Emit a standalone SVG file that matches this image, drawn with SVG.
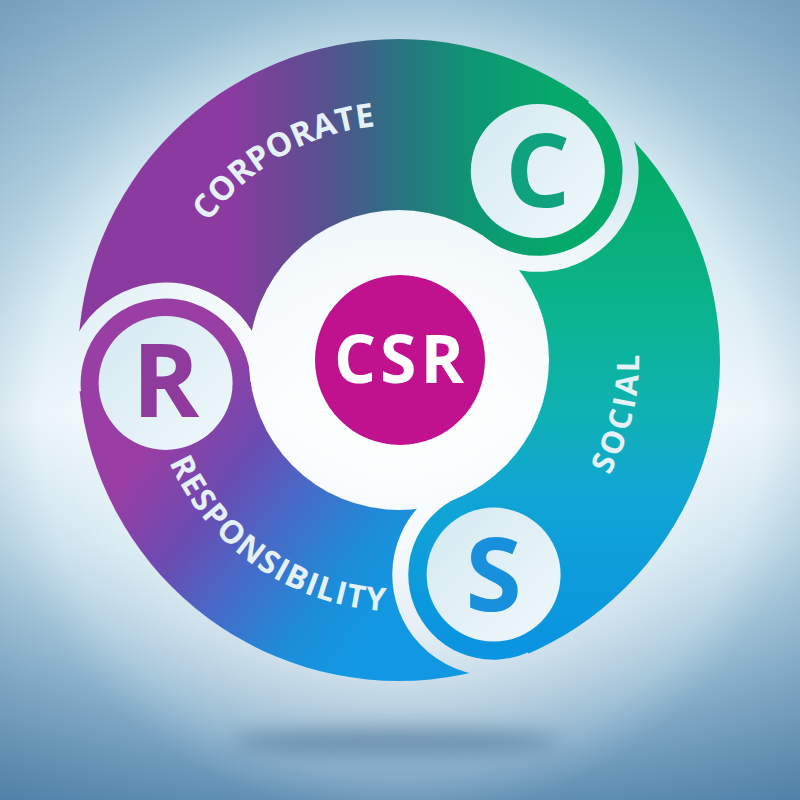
<svg xmlns="http://www.w3.org/2000/svg" width="800" height="800" viewBox="0 0 800 800">
<defs>
<style>
.lbl{font-family:"Open Sans","Liberation Sans",sans-serif;font-weight:700;fill:#e4f2f8;}
.big{font-family:"Open Sans","Liberation Sans",sans-serif;font-weight:700;text-anchor:middle;}
.disc{fill:url(#lite);}
</style>
<linearGradient id="bgv" x1="0" y1="0" x2="0" y2="800" gradientUnits="userSpaceOnUse">
<stop offset="0" stop-color="#a6cbde"/>
<stop offset="0.3" stop-color="#c6e1ed"/>
<stop offset="0.52" stop-color="#e6f3f8"/>
<stop offset="0.68" stop-color="#c4deeb"/>
<stop offset="0.84" stop-color="#96bcd3"/>
<stop offset="1" stop-color="#6594b8"/>
</linearGradient>
<radialGradient id="glow" cx="400" cy="400" r="420" gradientUnits="userSpaceOnUse">
<stop offset="0" stop-color="#fff" stop-opacity="1"/>
<stop offset="0.55" stop-color="#fff" stop-opacity="0.7"/>
<stop offset="1" stop-color="#fff" stop-opacity="0"/>
</radialGradient>
<radialGradient id="vig" cx="400" cy="420" r="600" gradientUnits="userSpaceOnUse">
<stop offset="0.6" stop-color="#2f5f88" stop-opacity="0"/>
<stop offset="1" stop-color="#2f5f88" stop-opacity="0.45"/>
</radialGradient>
<linearGradient id="lite" x1="0" y1="0" x2="1" y2="1">
<stop offset="0" stop-color="#d4e9f1"/>
<stop offset="1" stop-color="#f0f8fb"/>
</linearGradient>
<linearGradient id="gCorp" x1="230" y1="0" x2="560" y2="0" gradientUnits="userSpaceOnUse">
<stop offset="0" stop-color="#8b3aa0"/>
<stop offset="0.3" stop-color="#55528f"/>
<stop offset="0.5" stop-color="#2b7183"/>
<stop offset="0.72" stop-color="#0f9474"/>
<stop offset="1" stop-color="#05aa6a"/>
</linearGradient>
<linearGradient id="gSoc" x1="0" y1="170" x2="0" y2="640" gradientUnits="userSpaceOnUse">
<stop offset="0" stop-color="#05ab68"/>
<stop offset="0.3" stop-color="#0bb48e"/>
<stop offset="0.5" stop-color="#0fb2b0"/>
<stop offset="0.68" stop-color="#10a6d4"/>
<stop offset="1" stop-color="#0b94e0"/>
</linearGradient>
<linearGradient id="gResp" x1="150" y1="450" x2="380" y2="620" gradientUnits="userSpaceOnUse">
<stop offset="0" stop-color="#983ea4"/>
<stop offset="0.29" stop-color="#6a4cb2"/>
<stop offset="0.5" stop-color="#4a68c6"/>
<stop offset="0.79" stop-color="#1e8cd8"/>
<stop offset="1" stop-color="#1298e2"/>
</linearGradient>
<filter id="blur" x="-50%" y="-200%" width="200%" height="500%">
<feGaussianBlur stdDeviation="10"/>
</filter>
<mask id="m" maskUnits="userSpaceOnUse" x="0" y="0" width="800" height="800">
<circle cx="399" cy="360" r="321" fill="#fff"/>
<circle cx="399" cy="360" r="150" fill="#000"/>
<g fill="none" stroke="#000" stroke-width="16">
<path d="M592.9,96.1 A93,93 0 1 1 476.4,240.9"/>
<path d="M73.0,392.0 A93,93 0 1 1 258.6,381.9"/>
<path d="M531.1,659.7 A93,93 0 1 1 463.6,486.6"/>
</g>
</mask>
<path id="pCorp" d="M178.2,279.6 A235,235 0 0 1 439.8,128.6"/>
<path id="pSoc" d="M542.1,552.7 A240,240 0 0 0 613.6,252.5"/>
<path id="pResp" d="M151.8,406.0 A251.4,251.4 0 0 0 445.0,607.2"/>
</defs>

<g id="background">
<rect width="800" height="800" fill="url(#bgv)"/>
<rect width="800" height="800" fill="url(#glow)"/>
<rect width="800" height="800" fill="url(#vig)"/>
<ellipse cx="395" cy="742" rx="165" ry="14" fill="#456f8f" opacity="0.55" filter="url(#blur)"/>
</g>

<g id="disc" mask="url(#m)">
<path id="band-corporate" fill="url(#gCorp)" d="M399,360 L258.2,373.8 A93,93 0 0 0 72.6,383.9 L-76.7,398.5 L-198.1,418.6 L102.2,-161.5 L754.2,-123.5 L688.0,-19.8 L599.2,101.1 A93,93 0 0 1 482.8,246.0 Z"/>
<path id="band-social" fill="url(#gSoc)" d="M399,360 L482.8,246.0 A93,93 0 0 0 599.2,101.1 L688.0,-19.8 L754.2,-123.5 L995.5,425.3 L641.1,909 L584.1,799.9 L523.6,662.6 A93,93 0 0 1 456.1,489.5 Z"/>
<path id="band-responsibility" fill="url(#gResp)" d="M399,360 L456.1,489.5 A93,93 0 0 0 523.6,662.6 L584.1,799.9 L641.1,909 L96.3,878 L-198.1,418.6 L-76.7,398.5 L72.6,383.9 A93,93 0 0 1 258.2,373.8 Z"/>
</g>

<g id="node-csr">
<circle cx="400" cy="360" r="85" fill="#c0118e"/>
<text class="big" x="401" y="383" font-size="66" letter-spacing="4" fill="#ffffff">CSR</text>
</g>
<g id="node-c">
<circle class="disc" cx="537.8" cy="171" r="67"/>
<text class="big" x="537.8" y="207" font-size="102" fill="#10a27f">C</text>
</g>
<g id="node-r">
<circle class="disc" cx="165.6" cy="382.9" r="67"/>
<text class="big" x="165.6" y="417" font-size="102" fill="#8e3b9d">R</text>
</g>
<g id="node-s">
<circle class="disc" cx="493.6" cy="574.6" r="67"/>
<text class="big" x="493.6" y="611" font-size="102" fill="#1890dc">S</text>
</g>

<g id="labels">
<text class="lbl" font-size="33" text-anchor="middle"><textPath href="#pCorp" startOffset="50%">CORPORATE</textPath></text>
<text class="lbl" font-size="31" letter-spacing="3" text-anchor="middle"><textPath href="#pSoc" startOffset="50%">SOCIAL</textPath></text>
<text class="lbl" font-size="32" letter-spacing="1.5" text-anchor="middle"><textPath href="#pResp" startOffset="50%">RESPONSIBILITY</textPath></text>
</g>
<g id="connectors"/>
</svg>
